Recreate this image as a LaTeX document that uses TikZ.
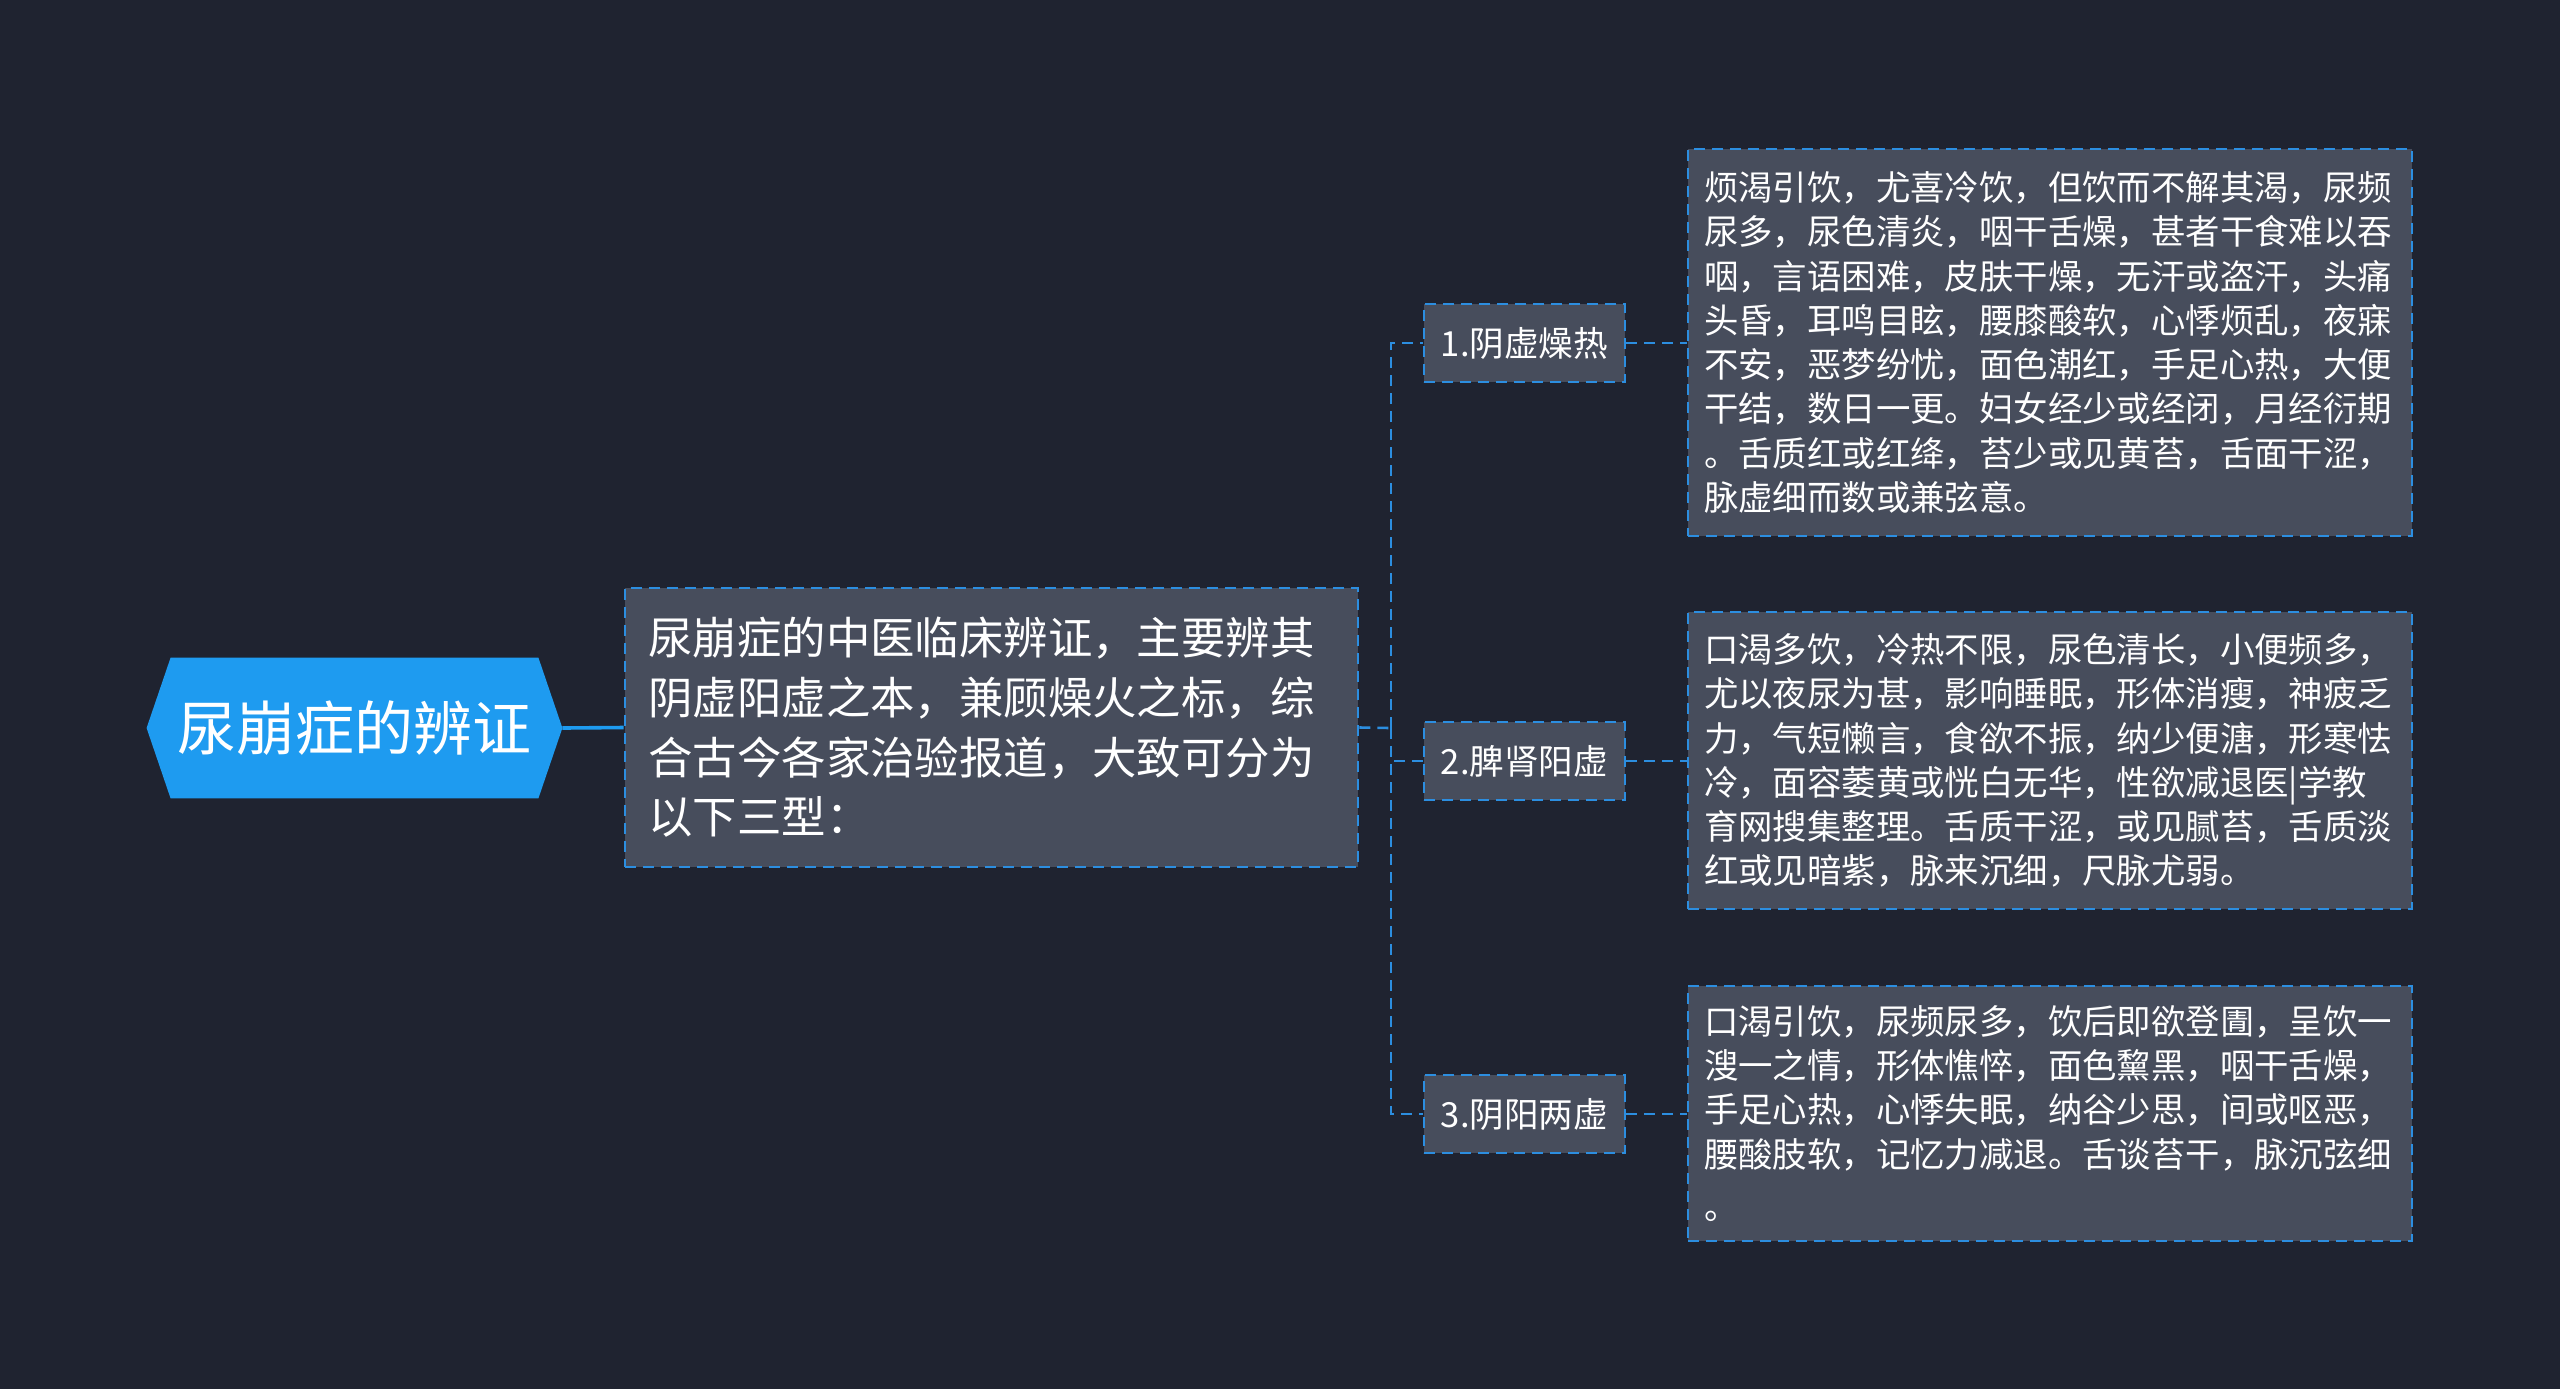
\documentclass[tikz,border=0pt]{standalone}
\usepackage{fontspec}
\setmainfont{Noto Sans CJK SC}
\definecolor{bg}{HTML}{1F2330}
\definecolor{boxfill}{HTML}{474D5C}
\definecolor{lineblue}{HTML}{2C8EE0}
\definecolor{rootblue}{HTML}{1E9BF0}
\begin{document}
\begin{tikzpicture}[x=0.5pt,y=-0.5pt,
  box/.style={draw=lineblue, line width=1.3pt, dash pattern=on 5.5pt off 3.5pt, fill=boxfill, text=white, align=left, inner ysep=0pt},
  conn/.style={draw=lineblue, line width=1.3pt, dash pattern=on 5.5pt off 3.5pt},
  leaf/.style={box, minimum width=362pt, text width=346pt, inner xsep=8pt, font=\fontsize{17.2pt}{22.15pt}\selectfont},
  child/.style={box, minimum width=100.5pt, minimum height=39pt, inner xsep=0pt, align=center, font=\fontsize{17.3pt}{20pt}\selectfont}]
\fill[bg] (0,0) rectangle (2560,1389);
\useasboundingbox (0,0) rectangle (2560,1389);

% root
\node[minimum width=207.5pt, minimum height=70pt, inner sep=0pt] (root) at (354.5,728) {};
\fill[rootblue] (root.west) -- ([xshift=12pt]root.north west) -- ([xshift=-12pt]root.north east) -- (root.east) -- ([xshift=-12pt]root.south east) -- ([xshift=12pt]root.south west) -- cycle;
\node[text=white, font=\fontsize{29.5pt}{32pt}\selectfont] (rootlabel) at (root) {尿崩症的辨证};

% main
\node[box, minimum width=366.5pt, minimum height=139.5pt, text width=343pt, inner xsep=11.5pt, font=\fontsize{22.2pt}{29.8pt}\selectfont] (main) at (991.5,727.5) {尿崩症的中医临床辨证，主要辨其\\阴虚阳虚之本，兼顾燥火之标，综\\合古今各家治验报道，大致可分为\\以下三型：};

% children
\node[child] (c1) at (1524.5,343) {1.阴虚燥热};
\node[child] (c2) at (1524.5,761) {2.脾肾阳虚};
\node[child] (c3) at (1524.5,1114) {3.阴阳两虚};

% leaves
\node[leaf, minimum height=193.5pt] (l1) at (2050,342.5) {烦渴引饮，尤喜冷饮，但饮而不解其渴，尿频\\尿多，尿色清炎，咽干舌燥，甚者干食难以吞\\咽，言语困难，皮肤干燥，无汗或盗汗，头痛\\头昏，耳鸣目眩，腰膝酸软，心悸烦乱，夜寐\\不安，恶梦纷忧，面色潮红，手足心热，大便\\干结，数日一更。妇女经少或经闭，月经衍期\\。舌质红或红绛，苔少或见黄苔，舌面干涩，\\脉虚细而数或兼弦意。};
\node[leaf, minimum height=148.5pt] (l2) at (2050,760.5) {口渴多饮，冷热不限，尿色清长，小便频多，\\尤以夜尿为甚，影响睡眠，形体消瘦，神疲乏\\力，气短懒言，食欲不振，纳少便溏，形寒怯\\冷，面容萎黄或恍白无华，性欲减退医|学教\\育网搜集整理。舌质干涩，或见腻苔，舌质淡\\红或见暗紫，脉来沉细，尺脉尤弱。};
\node[leaf, minimum height=127.5pt] (l3) at (2050,1113.5) {口渴引饮，尿频尿多，饮后即欲登圊，呈饮一\\溲一之情，形体憔悴，面色黧黑，咽干舌燥，\\手足心热，心悸失眠，纳谷少思，间或呕恶，\\腰酸肢软，记忆力减退。舌谈苔干，脉沉弦细\\[4pt]。};

% connectors
\draw[draw=rootblue, line width=1.8pt] (root.east) -- (main.west);
\coordinate (sp) at (1391,728);
\draw[conn] (main.east) -- (sp);
\draw[conn] (sp) |- (c1.west);
\draw[conn] (sp) |- (c2.west);
\draw[conn] (sp) |- (c3.west);
\draw[conn] (c1.east) -- (c1.east -| l1.west);
\draw[conn] (c2.east) -- (c2.east -| l2.west);
\draw[conn] (c3.east) -- (c3.east -| l3.west);
\end{tikzpicture}
\end{document}
